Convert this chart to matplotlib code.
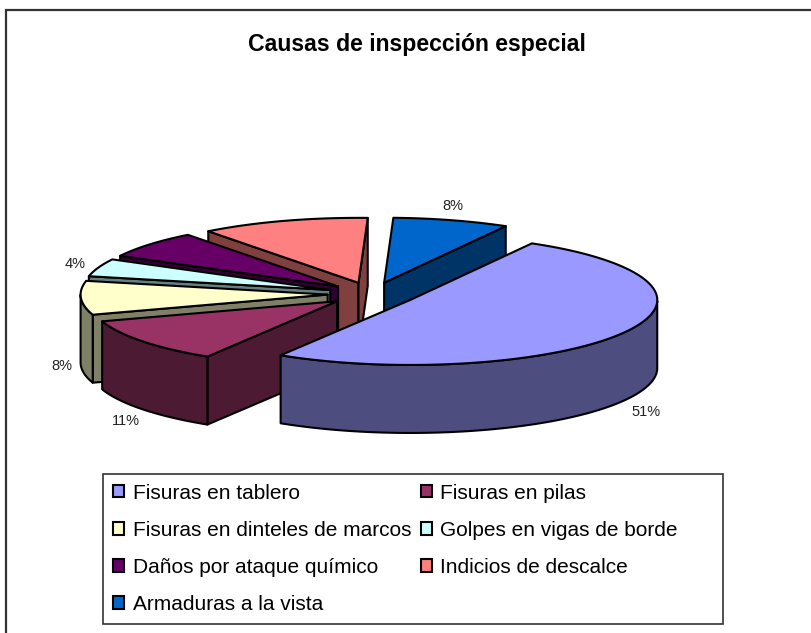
import numpy as np
import matplotlib
matplotlib.use("Agg")
import matplotlib.pyplot as plt
from matplotlib.patches import Patch, Polygon, Rectangle

plt.rcParams['font.family'] = ['Liberation Sans', 'DejaVu Sans']

title = "Causas de inspección especial"
categories = ["Fisuras en tablero", "Fisuras en pilas", "Fisuras en dinteles de marcos",
              "Golpes en vigas de borde", "Daños por ataque químico",
              "Indicios de descalce", "Armaduras a la vista"]
values = [50.6, 11.2, 8.4, 4.4, 6.8, 11.0, 7.6]
shown_labels = [True, True, True, True, False, False, True]
top_colors = ["#9999FF", "#993366", "#FFFFCC", "#CCFFFF", "#660066", "#FF8080", "#0066CC"]
side_colors = ["#4D4D80", "#4D1A33", "#808066", "#668080", "#330033", "#804040", "#003366"]
label_offsets = [(23, 11), (-17, 12), (-19, 0), (-23, -4), (0, 0), (0, 0), (1, -14)]

CX, CY, A, B, DEPTH, EXPLODE, START = 372, 294, 247, 65, 68, 0.18, 60.5
LW = 1.5

fig = plt.figure(figsize=(8.11, 6.33), dpi=100)
ax = fig.add_axes([0, 0, 1, 1])
ax.set_xlim(0, 811)
ax.set_ylim(633, 0)
ax.axis("off")

# Chart frame
ax.plot([6, 6, 811], [633, 10, 10], color="#333333", lw=1.6, solid_joinstyle="miter", clip_on=False)
ax.text(417, 45, title, ha="center", va="center", fontsize=16.6, fontweight="bold", color="black")

fractions = np.array(values, dtype=float) / np.sum(values)
ends = START - 360 * np.cumsum(fractions)
starts = np.r_[START, ends[:-1]]

def ell(t):
    r = np.radians(t)
    return A * np.cos(r), -B * np.sin(r)

def poly(pts, color, z):
    ax.add_patch(Polygon(pts, closed=True, facecolor=color, edgecolor="black", lw=LW,
                         joinstyle="round", zorder=z))

def shifted(pts):
    return [(x, y + DEPTH) for x, y in pts]

# back to front: last slice first, then the rest in drawing order
order = [6, 5, 4, 3, 2, 1, 0]
for k, i in enumerate(order):
    t0, t1 = starts[i], ends[i]
    mid = (t0 + t1) / 2
    mx, my = ell(mid)
    ax_, ay_ = CX + EXPLODE * mx, CY + EXPLODE * my
    ts = np.arange(t0, t1 - 1e-6, -1.5)
    ts = np.r_[ts, t1]
    rim = [(ax_ + ell(t)[0], ay_ + ell(t)[1]) for t in ts]
    z = 10 + k
    apex = (ax_, ay_)
    # cut faces facing the viewer
    if np.sin(np.radians(t0 + 90)) < 0:
        quad = [apex, rim[0]]
        poly(quad + shifted(quad)[::-1], side_colors[i], z)
    if np.sin(np.radians(t1 - 90)) < 0:
        quad = [apex, rim[-1]]
        poly(quad + shifted(quad)[::-1], side_colors[i], z)
    # outer wall: parts of the rim on the near side
    near = [p for p, t in zip(rim, ts) if np.sin(np.radians(t)) < 0]
    if len(near) > 1:
        poly(near + shifted(near)[::-1], side_colors[i], z)
    poly([apex] + rim, top_colors[i], z)
    if shown_labels[i]:
        dx, dy = label_offsets[i]
        extra = DEPTH if np.sin(np.radians(mid)) < 0.0 or i == 2 else 0
        rx, ry = ax_ + mx, ay_ + my + extra
        ax.text(rx + dx, ry + dy, f"{values[i]:.0f}%", ha="center", va="center",
                fontsize=10.5, color="#222222", zorder=30)

# Legend box and entries
ax.add_patch(Rectangle((103, 474), 620, 150, facecolor="white", edgecolor="#333333", lw=1.2, zorder=39))
handles = [Patch(facecolor=c, edgecolor="black", lw=1.5, label=n) for c, n in zip(top_colors, categories)]
column_order = [0, 2, 4, 6, 1, 3, 5]
leg = ax.legend([handles[i] for i in column_order], [categories[i] for i in column_order],
                ncol=2, loc="upper left", bbox_to_anchor=(103, 474), bbox_transform=ax.transData,
                borderaxespad=0, fontsize=15, frameon=False,
                handlelength=0.52, handleheight=0.52, handletextpad=0.43,
                columnspacing=0.46, labelspacing=0.865, borderpad=0.47)
leg.set_zorder(40)

fig.savefig("out.png", dpi=100)
